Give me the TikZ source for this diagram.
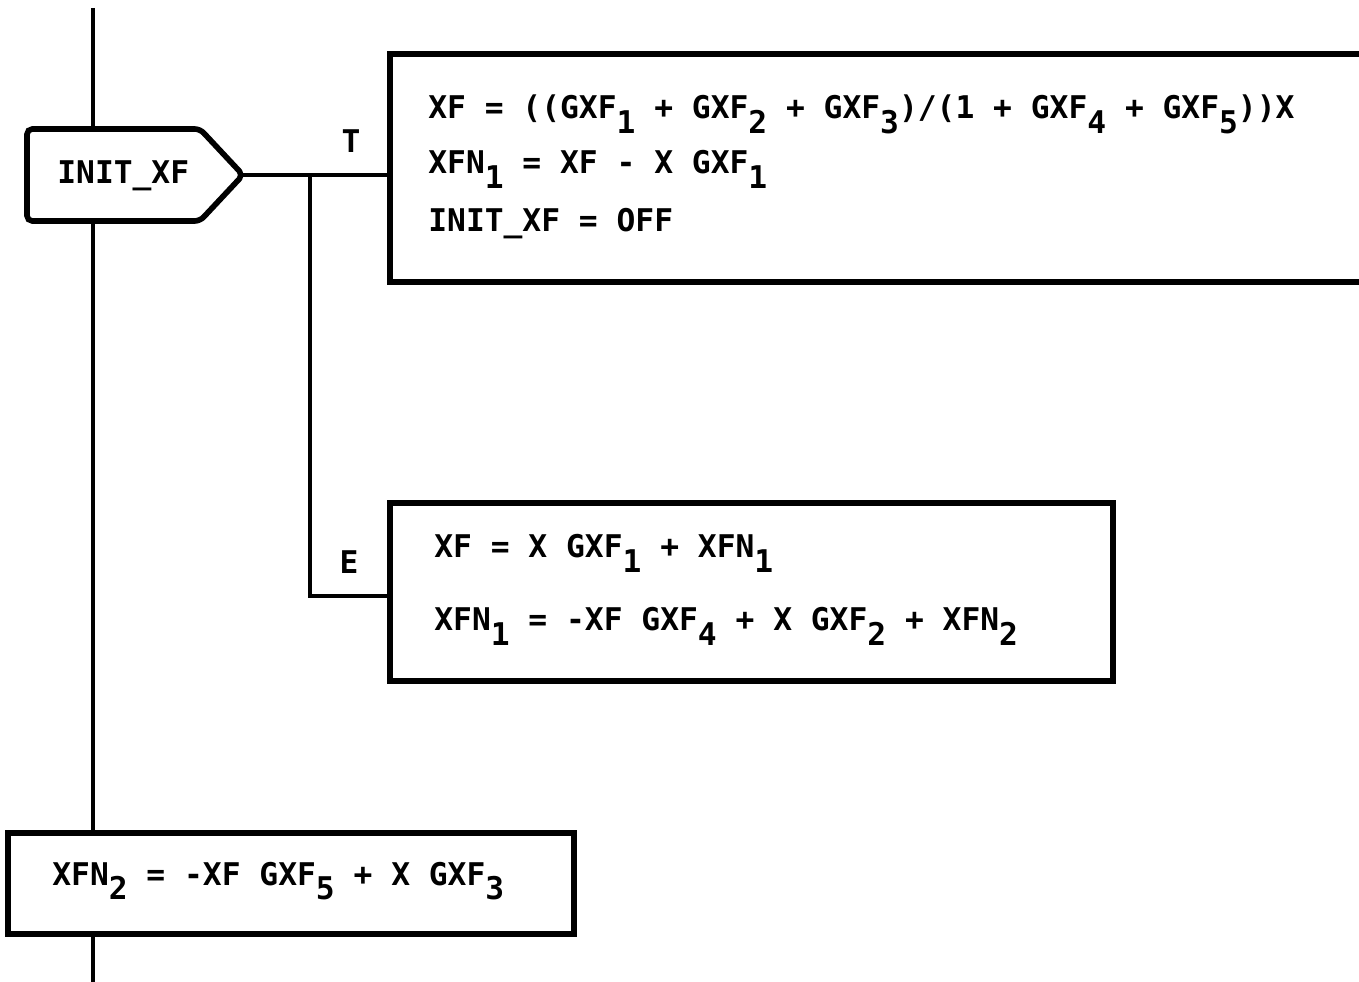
\documentclass[tikz,border=0pt]{standalone}
\usepackage{fontspec}
\setmonofont{DejaVu Sans Mono}
\newcommand{\dn}[1]{\raisebox{-0.45em}{#1}}

\begin{document}
\begin{tikzpicture}[x=0.02cm, y=-0.02cm,
	font=\ttfamily\bfseries\fontsize{17.8}{20}\selectfont,
	box/.style={draw, line width=3.2pt, fill=white, outer sep=0pt, inner sep=0pt, anchor=north west},
	eqn/.style={anchor=base west, inner sep=0pt},
	flow/.style={line width=2.4pt}]
	\useasboundingbox (0,0) rectangle (1359,982);
	\coordinate (top) at (93,8);
	\coordinate (bot) at (93,982);
	\draw [flow] (top) -- (bot); %main line
	% decision
	\draw [line width=3.2pt, fill=white, rounded corners=3pt] (27,129) -- (200,129) -- (243,175) -- (200,221) -- (27,221) -- cycle;
	\coordinate (tip) at (243,175);
	\node [eqn] (init) at (57,184) {INIT\_XF};
	% boxes
	\node [box, minimum width=19.52cm, minimum height=4.56cm] (tbox) at (390,54) {};
	\node [box, minimum width=14.46cm, minimum height=3.56cm] (ebox) at (390,503) {};
	\node [box, minimum width=11.32cm, minimum height=2.02cm] (nbox) at (8,833) {};
	% branches
	\coordinate (fork) at (310,175);
	\draw [flow] (tip) -- (tbox.west |- tip); %T
	\draw [flow] (fork) |- (ebox.west |- 0,596); %E
	\node (tlab) at (351,141) {T};
	\node (elab) at (349,562) {E};
	% T equations
	\node [eqn] (t1) at (428,119) {XF = ((GXF\dn{1} + GXF\dn{2} + GXF\dn{3})/(1 + GXF\dn{4} + GXF\dn{5}))X};
	\node [eqn] (t2) at (428,174) {XFN\dn{1} = XF - X GXF\dn{1}};
	\node [eqn] (t3) at (428,232) {INIT\_XF = OFF};
	% E equations
	\node [eqn] (e1) at (434,558) {XF = X GXF\dn{1} + XFN\dn{1}};
	\node [eqn] (e2) at (434,631) {XFN\dn{1} = -XF GXF\dn{4} + X GXF\dn{2} + XFN\dn{2}};
	% last block
	\node [eqn] (n1) at (52,885) {XFN\dn{2} = -XF GXF\dn{5} + X GXF\dn{3}};
\end{tikzpicture}
\end{document}
